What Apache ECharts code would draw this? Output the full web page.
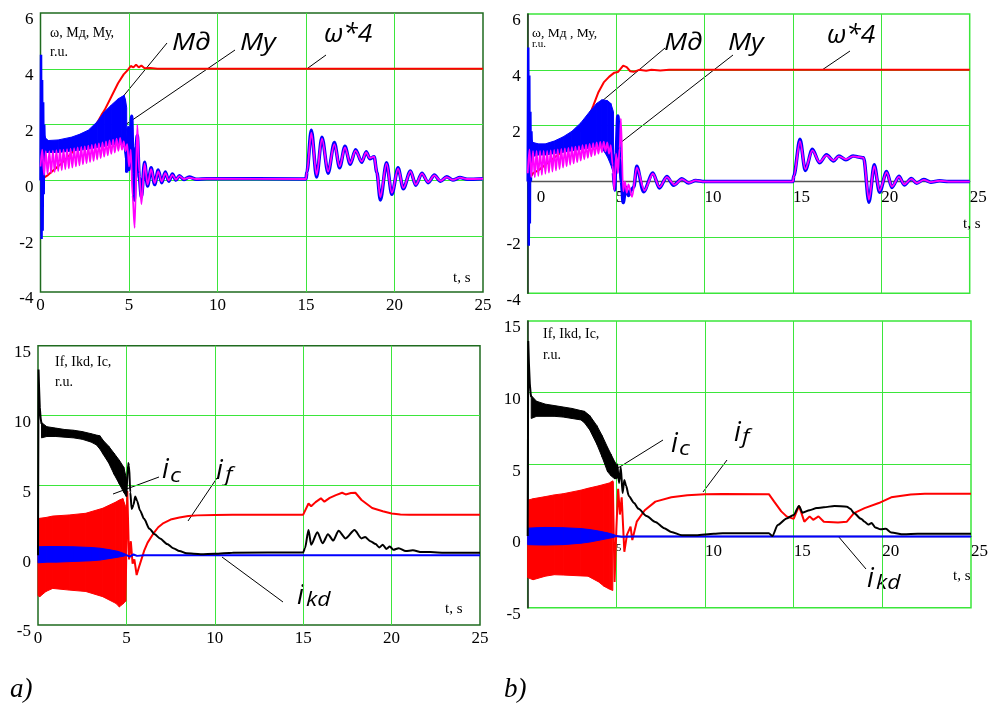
<!DOCTYPE html>
<html><head><meta charset="utf-8">
<script src="https://cdn.jsdelivr.net/npm/echarts@6/dist/echarts.min.js"></script>
<style>html,body{margin:0;padding:0;background:#fff}#c{width:991px;height:706px}</style>
</head><body><div id="c"></div>
<script>
// ===== DATA (t in s, value in r.u.) =====
// --- Panel a), top: ω*4, Мд, Му ---
const omegaA = [[0,0.0],[0.2,0.1],[0.42,0.19],[0.8,0.4],[1.18,0.61],[1.74,0.97],[2.2,1.25],[2.7,1.6],[3.1,1.95],[3.44,2.34],[3.62,2.52],[4.0,3.0],[4.38,3.48],[4.7,3.8],[4.94,3.96],[5.1,4.1],[5.25,4.05],[5.4,4.15],[5.55,4.05],[5.7,4.12],[5.88,4.02],[6.2,4.03],[6.6,4.0],[25,4.0]];
const mdA_spike = [[0,0],[0.03,4.5],[0.06,-2.1],[0.09,3.6],[0.12,-1.8],[0.15,2.8],[0.18,-0.5],[0.21,2.0],[0.25,0.9]];
const mdA_band = [[0.15,1.75,0.9],[0.3,1.5,1.0],[0.45,1.43,1.0],[1.0,1.45,1.0],[1.75,1.55,1.05],[2.2,1.65,1.08],[2.7,1.8,1.12],[3.2,2.1,1.18],[3.6,2.45,1.22],[4.0,2.7,1.28],[4.4,2.93,1.3],[4.6,3.0,1.3],[4.72,3.05,1.2],[4.8,2.9,0.8],[4.87,2.6,0.28]];
const mdA = [[4.87,0.28],[4.93,1.9],[5.0,0.4],[5.08,1.6],[5.15,2.3],[5.23,0.2],[5.3,-0.7],[5.4,1.2],[5.47,1.6],[5.58,0.1],[5.7,-0.6],[5.88,0.65],[6.05,-0.2],[6.25,0.45],[6.45,-0.15],[6.65,0.37],[6.85,-0.08],[7.05,0.3],[7.25,-0.03],[7.45,0.23],[7.65,0.01],[7.85,0.17],[8.1,0.03],[8.4,0.12],[8.8,0.04],[9.4,0.06],[15.0,0.05],[15.05,0.3],[15.3,1.8],[15.6,0.12],[15.9,1.55],[16.25,0.26],[16.6,1.36],[16.9,0.45],[17.2,1.22],[17.5,0.58],[17.8,1.1],[18.15,0.65],[18.4,1.03],[18.6,0.78],[18.85,0.85],[19.0,0.3],[19.2,-0.7],[19.55,0.63],[19.85,-0.5],[20.2,0.45],[20.5,-0.3],[20.9,0.34],[21.2,-0.17],[21.55,0.26],[21.9,-0.08],[22.25,0.19],[22.6,-0.03],[22.95,0.13],[23.3,0.01],[23.7,0.1],[24.1,0.04],[25,0.06]];
const myA = [[0,0.5],[0.1,1.1],[0.2,0.2],[0.3,1.05],[0.4,0.22],[0.5,1.05],[0.6,0.26],[0.7,1.07],[0.8,0.3],[0.9,1.08],[1.0,0.33],[1.1,1.1],[1.2,0.36],[1.3,1.1],[1.4,0.4],[1.5,1.12],[1.6,0.43],[1.7,1.14],[1.8,0.46],[1.9,1.16],[2.0,0.5],[2.1,1.18],[2.2,0.54],[2.3,1.2],[2.4,0.58],[2.5,1.22],[2.6,0.62],[2.7,1.25],[2.8,0.66],[2.9,1.27],[3.0,0.7],[3.1,1.3],[3.2,0.75],[3.3,1.33],[3.4,0.8],[3.5,1.36],[3.6,0.85],[3.7,1.4],[3.8,0.9],[3.9,1.43],[4.0,0.95],[4.1,1.46],[4.2,1.0],[4.3,1.5],[4.4,1.06],[4.5,1.52],[4.6,1.1],[4.7,1.4],[4.8,1.05],[4.9,1.3],[5.0,0.5],[5.1,1.1],[5.2,-0.55],[5.32,-1.7],[5.47,2.0],[5.58,0.3],[5.7,-0.85],[5.88,0.6],[6.05,-0.15],[6.25,0.4],[6.45,-0.1],[6.65,0.32],[6.85,-0.04],[7.05,0.26],[7.25,0.0],[7.45,0.2],[7.65,0.03],[7.85,0.15],[8.1,0.05],[8.4,0.1],[8.8,0.05],[9.4,0.06],[15.0,0.05],[15.05,0.3],[15.3,1.7],[15.6,0.2],[15.9,1.5],[16.25,0.32],[16.6,1.3],[16.9,0.5],[17.2,1.18],[17.5,0.62],[17.8,1.07],[18.15,0.68],[18.4,1.0],[18.6,0.8],[18.85,0.85],[19.0,0.3],[19.2,-0.6],[19.55,0.6],[19.85,-0.45],[20.2,0.42],[20.5,-0.27],[20.9,0.32],[21.2,-0.15],[21.55,0.24],[21.9,-0.06],[22.25,0.18],[22.6,-0.02],[22.95,0.12],[23.3,0.02],[23.7,0.1],[24.1,0.05],[25,0.06]];

// --- Panel b), top ---
const omegaB = [[0,0.0],[0.3,0.3],[0.6,0.4],[1.0,0.6],[1.5,0.85],[2.0,1.1],[2.5,1.45],[3.0,1.85],[3.5,2.4],[3.7,2.7],[4.0,3.2],[4.3,3.55],[4.6,3.75],[4.9,3.9],[5.1,3.92],[5.4,4.15],[5.6,4.1],[5.8,3.95],[6.0,3.93],[6.3,4.0],[6.7,3.97],[7.0,4.0],[7.5,3.98],[8.0,4.0],[25,4.0]];
const mdB_spike = [[0,0],[0.03,4.8],[0.06,-2.3],[0.09,3.8],[0.12,-1.5],[0.15,2.5],[0.18,0.0],[0.21,1.8],[0.25,0.8]];
const mdB_band = [[0.15,1.6,0.8],[0.3,1.4,0.9],[0.6,1.35,0.95],[1.0,1.35,0.95],[1.5,1.45,1.0],[2.0,1.6,1.05],[2.5,1.8,1.1],[3.0,2.1,1.15],[3.5,2.5,1.2],[3.9,2.8,1.25],[4.2,2.93,1.2],[4.5,2.9,0.9],[4.7,2.8,0.6],[4.85,2.5,0.3]];
const mdB = [[4.85,0.3],[4.92,-0.3],[5.0,1.0],[5.1,2.35],[5.2,0.8],[5.3,0.0],[5.4,-0.75],[5.55,-0.2],[5.7,-0.5],[5.85,-0.3],[6.0,-0.2],[6.17,0.55],[6.55,-0.36],[7.08,0.31],[7.45,-0.23],[7.87,0.18],[8.25,-0.13],[8.72,0.1],[9.1,-0.05],[9.5,0.04],[10,0.0],[15,0.0],[15.05,0.2],[15.4,1.52],[15.7,0.4],[16.1,1.16],[16.5,0.67],[16.9,0.96],[17.3,0.74],[17.6,0.92],[18.0,0.78],[18.4,0.92],[18.7,0.88],[19.0,0.85],[19.3,-0.74],[19.6,0.6],[19.9,-0.38],[20.3,0.36],[20.6,-0.21],[21.0,0.19],[21.3,-0.12],[21.7,0.11],[22.0,-0.06],[22.4,0.07],[22.8,-0.02],[23.3,0.03],[23.8,0.0],[25,0.0]];
const myB = [[0,0.3],[0.1,1.15],[0.2,0.15],[0.3,1.1],[0.4,0.15],[0.5,1.1],[0.6,0.2],[0.7,1.1],[0.8,0.24],[0.9,1.1],[1.0,0.28],[1.1,1.1],[1.2,0.32],[1.3,1.12],[1.4,0.36],[1.5,1.13],[1.6,0.4],[1.7,1.15],[1.8,0.45],[1.9,1.17],[2.0,0.5],[2.1,1.19],[2.2,0.55],[2.3,1.21],[2.4,0.6],[2.5,1.23],[2.6,0.65],[2.7,1.25],[2.8,0.7],[2.9,1.27],[3.0,0.75],[3.1,1.3],[3.2,0.8],[3.3,1.32],[3.4,0.85],[3.5,1.35],[3.6,0.9],[3.7,1.38],[3.8,0.95],[3.9,1.4],[4.0,1.0],[4.1,1.42],[4.2,1.05],[4.3,1.43],[4.4,1.08],[4.5,1.4],[4.6,1.0],[4.7,1.3],[4.8,0.6],[4.9,-0.3],[5.0,1.0],[5.1,0.3],[5.2,1.2],[5.27,2.25],[5.4,-0.35],[5.5,0.0],[5.6,-0.4],[5.7,-0.1],[5.9,-0.55],[6.17,0.5],[6.6,-0.32],[7.08,0.28],[7.45,-0.2],[7.87,0.16],[8.3,-0.11],[8.72,0.09],[9.1,-0.04],[9.5,0.04],[10,0.0],[15.0,0.0],[15.05,0.2],[15.4,1.45],[15.7,0.45],[16.1,1.12],[16.5,0.7],[16.9,0.94],[17.3,0.76],[17.6,0.9],[18.0,0.8],[18.4,0.9],[18.7,0.88],[19.0,0.85],[19.3,-0.65],[19.6,0.55],[19.9,-0.32],[20.3,0.33],[20.6,-0.18],[21.0,0.17],[21.3,-0.1],[21.7,0.1],[22.0,-0.05],[22.4,0.06],[22.8,-0.02],[23.3,0.03],[23.8,0.0],[25,0.0]];

// --- Panel a), bottom: If, Ikd, Ic ---
const icA_spike = [[0,0],[0.03,13.3],[0.06,12.0],[0.1,10.6],[0.15,9.8],[0.2,9.4]];
const icA_band = [[0.2,9.5,8.4],[0.5,9.2,8.5],[1.0,9.1,8.5],[1.5,9.0,8.45],[2.0,8.95,8.4],[2.5,8.85,8.3],[3.0,8.7,8.1],[3.3,8.6,7.9],[3.5,8.55,7.6],[3.7,8.2,7.2],[4.0,7.8,6.6],[4.3,7.3,5.8],[4.6,6.8,5.1],[4.85,6.3,4.5],[5.0,5.5,4.2]];
const icA = [[5.0,4.2],[5.1,6.6],[5.15,6.4],[5.22,4.5],[5.3,3.3],[5.4,3.6],[5.5,4.2],[5.6,3.9],[5.77,3.2],[6.0,2.6],[6.3,1.9],[6.6,1.5],[6.9,1.2],[7.3,0.8],[7.65,0.5],[8.0,0.3],[8.4,0.13],[9.2,0.07],[10,0.1],[11,0.18],[15.0,0.2],[15.1,0.5],[15.3,1.8],[15.45,0.75],[15.8,1.65],[16.1,0.85],[16.4,1.5],[16.7,1.05],[17.0,1.75],[17.4,1.2],[17.9,1.8],[18.3,1.2],[18.5,1.3],[18.8,1.0],[19.1,0.8],[19.3,0.55],[19.5,0.75],[19.7,0.45],[19.9,0.62],[20.1,0.38],[20.4,0.5],[20.8,0.3],[21.2,0.35],[21.7,0.22],[22.2,0.22],[23,0.18],[25,0.18]];
const ifA_band = [[0.0,2.6,-2.9],[0.1,2.64,-2.97],[0.45,2.7,-2.6],[0.83,2.8,-2.38],[1.77,2.88,-2.5],[2.7,3.0,-2.6],[3.66,3.36,-2.97],[4.4,3.8,-3.45],[4.6,3.95,-3.7],[4.8,4.05,-3.5],[4.95,3.5,-3.3]];
const ifA = [[4.95,-3.3],[5.05,4.6],[5.15,-0.3],[5.25,1.0],[5.35,-0.6],[5.45,-0.3],[5.58,-1.42],[5.7,-0.9],[5.85,-0.3],[6.0,0.3],[6.2,0.9],[6.5,1.5],[6.8,2.0],[7.1,2.3],[7.5,2.55],[8.0,2.7],[8.5,2.8],[9.0,2.85],[10,2.88],[11,2.9],[15.0,2.9],[15.3,3.7],[15.45,3.5],[15.7,3.8],[16.0,4.07],[16.2,3.83],[16.5,4.1],[16.85,4.3],[17.2,4.47],[17.4,4.35],[17.7,4.45],[17.95,4.47],[18.3,3.95],[18.9,3.38],[19.5,3.15],[20.0,2.98],[20.5,2.92],[21.0,2.9],[25,2.9]];
const ikdA_band = [[0,0.6,-0.55],[0.5,0.62,-0.5],[1.0,0.62,-0.5],[2.0,0.6,-0.45],[3.0,0.55,-0.4],[3.5,0.5,-0.35],[4.0,0.4,-0.25],[4.5,0.28,-0.15],[4.8,0.15,-0.08],[5.0,0.05,-0.02]];
const ikdA = [[5.0,0.0],[5.2,-0.1],[5.4,0.05],[5.6,-0.05],[6.0,0.0],[25,0.0]];

// --- Panel b), bottom ---
const icB_spike = [[0,0],[0.03,13.6],[0.07,12.0],[0.12,10.6],[0.17,9.9],[0.2,9.7]];
const icB_band = [[0.2,9.8,8.2],[0.5,9.4,8.35],[1.0,9.2,8.35],[1.5,9.1,8.35],[2.0,9.0,8.3],[2.5,8.9,8.2],[3.0,8.75,8.1],[3.2,8.7,7.9],[3.5,8.4,7.4],[3.9,7.7,6.4],[4.2,7.0,5.5],[4.5,6.2,4.5],[4.7,5.7,4.2],[4.9,5.2,4.0],[5.0,5.0,4.0]];
const icB = [[5.0,4.0],[5.05,5.0],[5.15,3.7],[5.25,4.8],[5.35,3.0],[5.45,3.9],[5.55,3.5],[5.7,2.8],[6.0,2.3],[6.25,1.9],[6.7,1.4],[7.2,0.98],[7.7,0.55],[8.1,0.28],[8.7,0.05],[9.5,0.05],[10.5,0.15],[11,0.19],[13.6,0.19],[13.8,0.0],[14.1,0.77],[14.6,1.23],[15.0,1.47],[15.3,2.1],[15.5,1.63],[15.9,1.8],[16.3,1.95],[16.7,2.0],[17.3,2.1],[18.0,2.05],[18.2,1.9],[18.4,1.6],[18.8,1.2],[19.0,1.0],[19.2,0.8],[19.4,0.9],[19.6,0.6],[19.9,0.47],[20.2,0.5],[20.5,0.24],[21.2,0.12],[22,0.15],[25,0.15]];
const ifB_band = [[0.0,2.5,-2.9],[0.3,2.6,-3.05],[1.0,2.75,-2.8],[1.5,2.87,-2.7],[2.0,2.95,-2.72],[3.0,3.2,-2.78],[3.4,3.33,-2.8],[4.0,3.5,-3.2],[4.3,3.6,-3.5],[4.6,3.7,-3.7],[4.8,3.85,-3.8]];
const ifB = [[4.8,3.8],[4.9,-3.2],[5.0,0.5],[5.1,3.3],[5.2,1.5],[5.3,2.7],[5.45,-1.1],[5.6,0.1],[5.8,0.65],[5.9,-0.28],[6.15,1.0],[6.6,1.8],[7.2,2.4],[8.1,2.7],[9,2.85],[10,2.92],[11,2.93],[13.6,2.92],[13.9,2.4],[14.3,1.72],[14.6,1.37],[15.0,1.2],[15.3,2.1],[15.6,1.0],[15.9,1.37],[16.1,1.13],[16.4,1.37],[16.7,1.0],[17.5,0.95],[18.0,1.0],[18.4,1.6],[19.0,1.95],[19.8,2.3],[20.5,2.7],[21.6,2.9],[22.4,2.95],[25,2.95]];
const ikdB_band = [[0,0.55,-0.6],[0.5,0.58,-0.62],[1,0.6,-0.63],[2,0.58,-0.6],[3,0.52,-0.5],[3.5,0.45,-0.42],[4,0.35,-0.3],[4.5,0.22,-0.18],[4.8,0.12,-0.1],[5.0,0.03,-0.03]];
const ikdB = [[5.0,0.0],[5.3,-0.05],[6,-0.03],[25,-0.03]];

// axis ticks
const tTicks = {min:0, max:25, interval:5};
const yTop = {min:-4, max:6, interval:2};
const yBot = {min:-5, max:15, interval:5};

// ===== STYLE =====
const GRID_GREEN = '#3be63b';
const FRAME_DARK = '#1f6b1f';
const RED = '#ff0000', BLUE = '#0000ff', MAG = '#ff00ff', BLACK = '#000000';
const SERIF = '"Liberation Serif", "Times New Roman", serif';
const SANS = '"Open Sans", "Noto Sans", sans-serif';

function line(gi, data, color, width, z, smooth) {
  return {type:'line', xAxisIndex:gi, yAxisIndex:gi, data, showSymbol:false, symbol:'none',
    smooth: smooth || false, smoothMonotone: smooth ? 'x' : undefined,
    lineStyle:{color, width}, itemStyle:{color}, z, animation:false, silent:true};
}
function band(gi, rows, color, z) {
  const data = [];
  for (let i = 0; i < rows.length - 1; i++) data.push([rows[i][0], rows[i][1], rows[i][2], rows[i+1][0], rows[i+1][1], rows[i+1][2]]);
  return {type:'custom', xAxisIndex:gi, yAxisIndex:gi, z, silent:true, animation:false,
    encode:{x:[0,3], y:[1,2,4,5]}, data,
    renderItem(params, api) {
      const a = api.coord([api.value(0), api.value(1)]);
      const b = api.coord([api.value(3), api.value(4)]);
      const c = api.coord([api.value(3), api.value(5)]);
      const d = api.coord([api.value(0), api.value(2)]);
      return {type:'polygon', shape:{points:[a,b,c,d]}, style:{fill:color, stroke:color, lineWidth:1}};
    }};
}
// offset: distance from grid bottom up to the zero line (for panels b)
function xAx(gi, offset, formatter, rich, align) {
  const bPanel = offset !== 0;
  return Object.assign({gridIndex:gi, type:'value', position:'bottom', offset}, tTicks, {
    axisLine: bPanel ? {show:true, onZero:false, lineStyle:{color:'#555', width:1.3}} : {show:false, onZero:false},
    axisTick:{show:false},
    splitLine:{show:true, showMinLine:false, showMaxLine:false, lineStyle:{color:GRID_GREEN, width:1}},
    axisLabel:{fontFamily:SERIF, fontSize:17, color:'#000', margin: bPanel ? 7 : 5, align: align || 'center', formatter, rich}
  });
}
function yAx(gi, range, bPanel, formatter) {
  return Object.assign({gridIndex:gi, type:'value'}, range, {
    axisLine: bPanel ? {show:true, onZero:false, lineStyle:{color:'#222', width:1.5}} : {show:false, onZero:false},
    axisTick:{show:false},
    splitLine:{show:true, showMinLine:false, showMaxLine:false, lineStyle:{color:GRID_GREEN, width:1}},
    axisLabel:{fontFamily:SERIF, fontSize:17, color:'#000', margin:7, verticalAlign:'top', lineHeight:14, formatter}
  });
}

const chart = echarts.init(document.getElementById('c'), null, {renderer:'canvas'});

function txt(x, y, text, font, opts) {
  return Object.assign({type:'text', x, y, silent:true, style:{text, font, fill:'#000', textAlign:'left', textVerticalAlign:'middle', align:'left', verticalAlign:'middle'}}, opts || {});
}
function seg(x1, y1, x2, y2) {
  return {type:'line', silent:true, shape:{x1, y1, x2, y2}, style:{stroke:'#000', lineWidth:1}};
}
const annFont = 'italic 23px ' + SANS;
const omFont = 'italic 25px ' + SANS;
const iFont = 'italic 27px ' + SANS;
const subFont = 'italic 20px ' + SANS;

const graphics = [
  // panel a top
  txt(50, 33, 'ω, Мд, Му,', '14px ' + SERIF), txt(50, 52, 'r.u.', '14px ' + SERIF),
  txt(172, 43, 'Мд', annFont, {scaleX:1.2}), txt(240, 43, 'Му', annFont, {scaleX:1.2}), txt(324, 35, 'ω*4', omFont, {scaleX:1.05}),
  seg(167, 43, 112, 110), seg(235, 50, 125, 125), seg(326, 55, 308, 68),
  txt(453, 278, 't, s', '15px ' + SERIF),
  // panel b top
  txt(532, 33, 'ω, Мд , Му,', '13.5px ' + SERIF), txt(532, 44, 'r.u.', '11px ' + SERIF),
  txt(664, 43, 'Мд', annFont, {scaleX:1.2}), txt(728, 43, 'Му', annFont, {scaleX:1.2}), txt(827, 36, 'ω*4', omFont, {scaleX:1.05}),
  seg(665, 48, 595, 107), seg(733, 55, 615, 147), seg(850, 51, 822, 70),
  txt(963, 224, 't, s', '15px ' + SERIF),
  // panel a bottom
  txt(55, 362, 'If, Ikd, Ic,', '14px ' + SERIF), txt(55, 382, 'r.u.', '14px ' + SERIF),
  txt(162, 470, 'i', iFont), txt(170, 476, 'c', subFont, {scaleX:1.2}),
  txt(216, 471, 'i', iFont), txt(225, 475, 'f', subFont, {scaleX:1.2}),
  txt(297, 596, 'i', iFont), txt(306, 600, 'kd', subFont, {scaleX:1.15}),
  seg(159, 477, 113, 494), seg(217, 478, 188, 521), seg(283, 602, 222, 557),
  txt(445, 609, 't, s', '15px ' + SERIF),
  // panel b bottom
  txt(543, 334, 'If, Ikd, Ic,', '14px ' + SERIF), txt(543, 355, 'r.u.', '14px ' + SERIF),
  txt(671, 444, 'i', iFont), txt(679, 449, 'c', subFont, {scaleX:1.2}),
  txt(734, 433, 'i', iFont), txt(742, 437, 'f', subFont, {scaleX:1.2}),
  txt(867, 579, 'i', iFont), txt(876, 583, 'kd', subFont, {scaleX:1.15}),
  seg(663, 440, 618, 468), seg(727, 460, 703, 492), seg(866, 569, 838, 536),
  txt(953, 576, 't, s', '15px ' + SERIF),
  // captions
  txt(10, 690, 'a)', 'italic 27px ' + SERIF), txt(504, 690, 'b)', 'italic 27px ' + SERIF)
];

const option = {
  backgroundColor:'#ffffff',
  animation:false,
  grid:[
    {left:40.5, top:13, width:442.5, height:279, show:true, borderColor:FRAME_DARK, borderWidth:1.5, containLabel:false},
    {left:527.7, top:14, width:442, height:279.3, show:true, borderColor:GRID_GREEN, borderWidth:1.5, containLabel:false},
    {left:38, top:345.7, width:442, height:279.3, show:true, borderColor:FRAME_DARK, borderWidth:1.5, containLabel:false},
    {left:527.7, top:321, width:448.3, height:286.7, show:true, borderColor:GRID_GREEN, borderWidth:1.5, containLabel:false}
  ],
  xAxis:[
    xAx(0, 0),
    xAx(1, -111.7, v => v === 0 ? '{z|0}' : String(v), {z:{padding:[0,0,0,9], fontSize:17, fontFamily:SERIF, color:'#000'}}, 'left'),
    xAx(2, 0),
    xAx(3, -71.7, v => v === 0 ? '' : (v === 5 ? '{s|5}' : String(v)), {s:{fontSize:10, fontFamily:SERIF, color:'#000', padding:[0,0,8,0]}}, 'left')
  ],
  yAxis:[
    yAx(0, yTop, false),
    yAx(1, yTop, true, v => v === 0 ? '' : String(v)),
    yAx(2, yBot, false),
    yAx(3, yBot, true)
  ],
  series:[
    // a top
    line(0, omegaA, RED, 2, 2),
    band(0, mdA_band, BLUE, 3),
    line(0, mdA_spike, BLUE, 2.5, 3),
    line(0, mdA, BLUE, 3.5, 3, 0.3),
    line(0, myA, MAG, 1.8, 4, 0.3),
    // b top
    line(1, omegaB, RED, 2, 2),
    band(1, mdB_band, BLUE, 3),
    line(1, mdB_spike, BLUE, 2.5, 3),
    line(1, mdB, BLUE, 3.5, 3, 0.3),
    line(1, myB, MAG, 1.8, 4, 0.3),
    // a bottom
    band(2, ifA_band, RED, 2),
    line(2, ifA, RED, 2, 2),
    band(2, ikdA_band, BLUE, 3),
    line(2, ikdA, BLUE, 2, 3),
    band(2, icA_band, BLACK, 4),
    line(2, icA_spike, BLACK, 2, 4),
    line(2, icA, BLACK, 2, 4, 0.25),
    // b bottom
    band(3, ifB_band, RED, 2),
    line(3, ifB, RED, 2, 2),
    band(3, ikdB_band, BLUE, 3),
    line(3, ikdB, BLUE, 2, 3),
    band(3, icB_band, BLACK, 4),
    line(3, icB_spike, BLACK, 2, 4),
    line(3, icB, BLACK, 2, 4, 0.25)
  ],
  graphic: graphics
};
chart.setOption(option);
</script></body></html>
